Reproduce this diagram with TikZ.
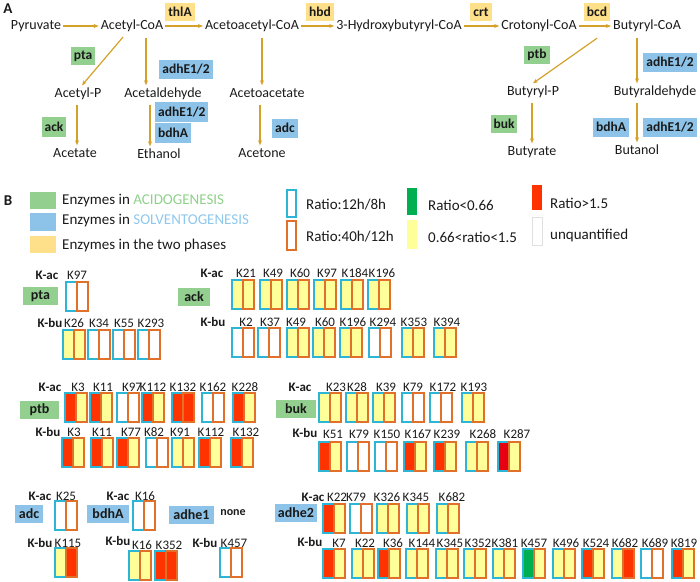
\documentclass[tikz,border=0pt]{standalone}
\usepackage{fontspec}
\setmainfont{Carlito}
\usetikzlibrary{arrows.meta}
\definecolor{arrc}{HTML}{D4A12A}
\definecolor{gbox}{HTML}{93CF8E}
\definecolor{bbox}{HTML}{8DC3E8}
\definecolor{ybox}{HTML}{FFE08A}
\definecolor{cyanc}{HTML}{2DB5D5}
\definecolor{orc}{HTML}{E0702A}
\definecolor{yf}{HTML}{FFFF99}
\definecolor{rf}{HTML}{FF3300}
\definecolor{gf}{HTML}{00B050}
\definecolor{rd}{HTML}{E60012}
\definecolor{acidc}{HTML}{8FD18A}
\definecolor{solvc}{HTML}{8EC8EC}
\definecolor{txt}{HTML}{1A1A1A}
\newcommand{\barpair}[4]{%
  \path[fill=#3] (#1,#2) rectangle ++(11,29);
  \path[fill=#4] (#1+11,#2) rectangle ++(11,29);
  \draw[cyanc,line width=1.2pt] (#1,#2) rectangle ++(11,29);
  \draw[orc,line width=1.2pt] (#1+11,#2) rectangle ++(11,29);
}
\newcommand{\barrow}[3]{%
  \foreach \bx/\lx/\lab/\lf/\rf in {#3} {%
    \barpair{\bx}{#1}{\lf}{\rf}
    \node[klab] (lab-\bx-#1) at (\lx,#2) {\lab};
  }
}
\tikzset{
  met/.style={text=txt,font=\fontsize{14}{16}\selectfont,inner sep=2pt,text height=10pt,text depth=3pt},
  arr/.style={arrc,line width=1.2pt,-{Stealth[length=5pt,width=4pt]}},
  enz/.style={font=\bfseries\fontsize{13.5}{15}\selectfont,text=txt,inner xsep=3pt,inner ysep=0pt,minimum height=18pt},
  klab/.style={font=\fontsize{13}{15}\selectfont,text=txt,inner sep=0pt},
  kk/.style={font=\bfseries\fontsize{13}{15}\selectfont,text=txt,inner sep=0pt},
  benz/.style={font=\bfseries\fontsize{14}{16}\selectfont,text=txt,inner sep=0pt,minimum height=18pt},
  leg/.style={font=\fontsize{15}{17}\selectfont,text=txt,inner sep=0pt,anchor=west},
}
\begin{document}
\begin{tikzpicture}[x=1pt,y=-1pt]
\useasboundingbox (0,0) rectangle (700,581);
% ---------- Part A ----------
\node[font=\bfseries\fontsize{15}{17}\selectfont,text=txt] (A) at (8,9) {A};
\node[met] (pyr) at (36,26) {Pyruvate};
\node[met] (acoa) at (132,26) {Acetyl-CoA};
\node[met] (aacoa) at (252,26) {Acetoacetyl-CoA};
\node[met] (hbcoa) at (399,26) {3-Hydroxybutyryl-CoA};
\node[met] (ccoa) at (539,26) {Crotonyl-CoA};
\node[met] (bcoa) at (647,26) {Butyryl-CoA};
\node[met] (acp) at (78,94) {Acetyl-P};
\node[met] (ald) at (163,94) {Acetaldehyde};
\node[met] (aca) at (267,94) {Acetoacetate};
\node[met] (acet) at (75,154) {Acetate};
\node[met] (eth) at (159,155) {Ethanol};
\node[met] (acn) at (262,154) {Acetone};
\node[met] (bp) at (533,92) {Butyryl-P};
\node[met] (bald) at (655,92) {Butyraldehyde};
\node[met] (but) at (532,152) {Butyrate};
\node[met] (bol) at (637,151) {Butanol};

\draw[arr] (pyr) -- (acoa);
\draw[arr] (acoa) -- (aacoa);
\draw[arr] (aacoa) -- (hbcoa);
\draw[arr] (hbcoa) -- (ccoa);
\draw[arr] (ccoa) -- (bcoa);
\draw[arr,shorten <=3pt] ([xshift=-7pt]acoa.south) -- ([xshift=4pt]acp.north);
\draw[arr,shorten <=3pt] ([xshift=14pt]acoa.south) -- ([xshift=-17pt]ald.north);
\draw[arr,shorten <=3pt] ([xshift=10pt]aacoa.south) -- ([xshift=-5pt]aca.north);
\draw[arr,shorten <=2pt] ([xshift=-1pt]acp.south) -- ([xshift=2pt]acet.north);
\draw[arr,shorten <=2pt] ([xshift=-13pt]ald.south) -- ([xshift=-9pt]eth.north);
\draw[arr,shorten <=2pt] ([xshift=-7pt]aca.south) -- ([xshift=-2pt]acn.north);
\draw[arr,shorten <=6pt] ([xshift=-45pt]bcoa.south) -- (bp.north);
\draw[arr,shorten <=3pt] ([xshift=-10pt]bcoa.south) -- ([xshift=-18pt]bald.north);
\draw[arr,shorten <=2pt] ([xshift=-1pt]bp.south) -- (but.north);
\draw[arr,shorten <=2pt] ([xshift=-18pt]bald.south) -- (bol.north);

\node[enz,fill=ybox] (e-thlA) at (180,12) {thlA};
\node[enz,fill=ybox] (e-hbd) at (320,12) {hbd};
\node[enz,fill=ybox] (e-crt) at (481,12) {crt};
\node[enz,fill=ybox] (e-bcd) at (597,12) {bcd};
\node[enz,fill=gbox] (e-pta) at (83,56) {pta};
\node[enz,fill=bbox,minimum height=19pt] (e-adh1) at (186,69) {adhE1/2};
\node[enz,fill=bbox,minimum height=20pt,anchor=west] (e-adh2) at (155,112) {adhE1/2};
\node[enz,fill=bbox,minimum height=20pt,anchor=west] (e-bdh1) at (155,133) {bdhA};
\node[enz,fill=gbox,minimum height=20pt] (e-ack) at (54,127) {ack};
\node[enz,fill=bbox,minimum height=19pt] (e-adc) at (285,128) {adc};
\node[enz,fill=gbox] (e-ptb) at (537,55) {ptb};
\node[enz,fill=bbox,minimum height=19pt] (e-adh3) at (670,62) {adhE1/2};
\node[enz,fill=gbox] (e-buk) at (504,124) {buk};
\node[enz,fill=bbox,minimum height=19pt] (e-bdh2) at (611,127) {bdhA};
\node[enz,fill=bbox,minimum height=19pt] (e-adh4) at (670,127) {adhE1/2};

% ---------- Part B legend ----------
\node[font=\bfseries\fontsize{15}{17}\selectfont,text=txt] (B) at (8,201) {B};
\fill[gbox] (30,192) rectangle (56,209);
\node[leg] (l1) at (62,201) {Enzymes in \textcolor{acidc}{ACIDOGENESIS}};
\fill[bbox] (30,213) rectangle (56,231);
\node[leg] (l2) at (62,221) {Enzymes in \textcolor{solvc}{SOLVENTOGENESIS}};
\fill[ybox] (30,236) rectangle (56,253);
\node[leg] (l3) at (62,245) {Enzymes in the two phases};
\draw[cyanc,line width=1.2pt] (287,190) rectangle (296,217);
\node[leg] (l4) at (306,205) {Ratio:12h/8h};
\draw[orc,line width=1.2pt] (287,221) rectangle (296,250);
\node[leg] (l5) at (306,237) {Ratio:40h/12h};
\fill[gf] (407,188) rectangle (417,215);
\node[leg] (l6) at (428,205) {Ratio<0.66};
\fill[yf] (407,220) rectangle (417,249);
\node[leg] (l7) at (428,237) {0.66<ratio<1.5};
\fill[rf] (532,185) rectangle (542,210);
\node[leg] (l8) at (550,203) {Ratio>1.5};
\draw[black!12,line width=0.8pt] (532,217) rectangle (542,245);
\node[leg] (l9) at (550,235) {unquantified};

% ---------- pta ----------
\node[benz,fill=gbox,minimum width=35pt] (b-pta) at (40.5,296) {pta};
\node[kk] (pta-ac) at (47,275) {K-ac};
\node[kk] (pta-bu) at (50,323) {K-bu};
\barrow{282}{275}{66/77/K97/white/white}
\barrow{330}{323}{63/74/K26/yf/yf, 88/99/K34/white/white, 113/124/K55/white/white, 138/151/K293/white/white}

% ---------- ack ----------
\node[benz,fill=gbox,minimum width=32pt] (b-ack) at (194,297) {ack};
\node[kk] (ack-ac) at (212,273) {K-ac};
\node[kk] (ack-bu) at (213,322) {K-bu};
\barrow{280}{273}{232/246/K21/yf/yf, 260/273/K49/yf/yf, 287/300/K60/yf/yf, 314/327/K97/yf/yf, 341/355/K184/yf/yf, 368/382/K196/yf/yf}
\barrow{328}{322}{232/246/K2/white/white, 258/270/K37/white/white, 287/296/K49/yf/yf, 313/325/K60/yf/yf, 340/353/K196/yf/yf, 369/383/K294/white/white, 402/414/K353/yf/yf, 434/447/K394/yf/yf}

% ---------- ptb ----------
\node[benz,fill=gbox,minimum width=39pt] (b-ptb) at (39.5,409.5) {ptb};
\node[kk] (ptb-ac) at (50,387) {K-ac};
\node[kk] (ptb-bu) at (48,432) {K-bu};
\barrow{393}{387}{65/78/K3/rf/yf, 90/103/K11/rf/yf, 117/132/K97/white/white, 142/153/K112/rf/yf, 172/183/K132/rf/rf, 202/213/K162/white/white, 233/245/K228/rf/yf}
\barrow{438}{432}{62/74/K3/rf/yf, 91/102/K11/rf/yf, 117/131/K77/rf/yf, 146/154/K82/white/white, 172/180/K91/yf/yf, 199/211/K112/rf/yf, 231/246/K132/rf/yf}

% ---------- buk ----------
\node[benz,fill=gbox,minimum width=40pt] (b-buk) at (296,409) {buk};
\node[kk] (buk-ac) at (300,387) {K-ac};
\node[kk] (buk-bu) at (305,433) {K-bu};
\barrow{393}{387}{319/336/K23/yf/yf, 346/357/K28/yf/yf, 373/386/K39/yf/yf, 402/413/K79/white/white, 430/443/K172/white/white, 462/474/K193/yf/yf}
\barrow{442}{434}{319/333/K51/rf/yf, 347/359/K79/white/white, 375/387/K150/white/white, 404/418/K167/rf/yf, 434/447/K239/rf/yf, 466/483/K268/yf/yf, 498/517/K287/rd/yf}

% ---------- adc ----------
\node[benz,fill=bbox,minimum width=28pt] (b-adc) at (29,514) {adc};
\node[kk] (adc-ac) at (40,496) {K-ac};
\node[kk] (adc-bu) at (40,543) {K-bu};
\barrow{501}{496}{55/66/K25/white/white}
\barrow{548}{543}{55/68/K115/yf/rf}

% ---------- bdhA ----------
\node[benz,fill=bbox,minimum width=42pt] (b-bdhA) at (108,514) {bdhA};
\node[kk] (bdh-ac) at (118,496) {K-ac};
\node[kk] (bdh-bu) at (118,541) {K-bu};
\barrow{501}{496}{133/145/K16/white/white}
\barrow{551}{545}{129/142/K16/yf/yf, 155/169/K352/rf/rf}

% ---------- adhe1 ----------
\node[benz,fill=bbox,minimum width=45pt] (b-adhe1) at (191.5,514.5) {adhe1};
\node[kk,font=\bfseries\fontsize{12}{14}\selectfont] (none) at (233,513) {none};
\node[kk] (adhe1-bu) at (205,543) {K-bu};
\barrow{548}{543}{220/234/K457/white/white}

% ---------- adhe2 ----------
\node[benz,fill=bbox,minimum width=42pt] (b-adhe2) at (296,512.5) {adhe2};
\node[kk] (adhe2-ac) at (313,497) {K-ac};
\node[kk] (adhe2-bu) at (310,542) {K-bu};
\barrow{504}{497}{323/337/K22/rf/yf, 350/356/K79/white/white, 377/387/K326/yf/yf, 407/416/K345/yf/yf, 437/452/K682/yf/yf}
\barrow{549}{543}{323/339/K7/rf/yf, 352/365/K22/yf/yf, 378/393/K36/rf/yf, 406/422/K144/yf/yf, 436/450/K345/yf/yf, 464/478/K352/yf/yf, 493/505/K381/yf/yf, 523/534/K457/gf/yf, 553/566/K496/yf/yf, 582/596/K524/rf/yf, 612/625/K682/yf/rf, 641/655/K689/white/white, 672/684/K819/rf/yf}
\end{tikzpicture}
\end{document}
